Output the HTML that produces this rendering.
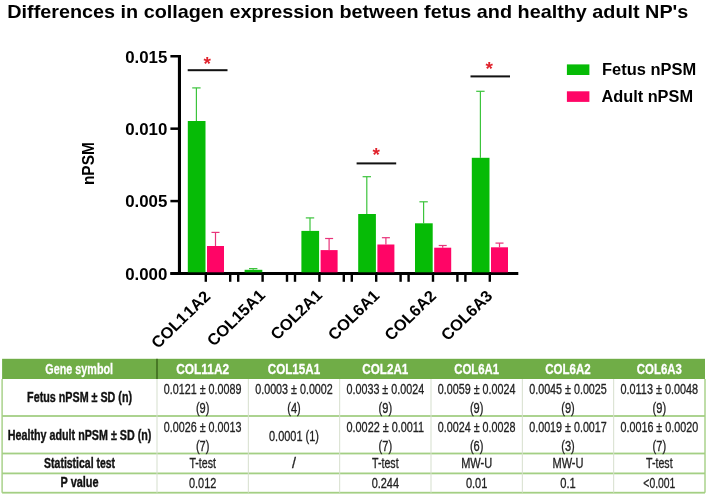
<!DOCTYPE html>
<html lang="en"><head><meta charset="utf-8"><title>Differences in collagen expression between fetus and healthy adult NP's</title>
<style>html,body{margin:0;padding:0;background:#fff}body{width:708px;height:496px;overflow:hidden}svg{display:block}text{font-family:"Liberation Sans",Arial,Helvetica,sans-serif}.b{font-weight:700;fill:#000}.ax{font-size:16px;font-weight:700;fill:#000}.th{font-size:15.5px;font-weight:700;fill:#fff;stroke:#fff;stroke-width:.3px;text-anchor:middle}.rh{font-size:15px;font-weight:700;fill:#111;stroke:#111;stroke-width:.4px;text-anchor:middle}.td{font-size:14.2px;fill:#222;stroke:#222;stroke-width:.3px;text-anchor:middle}.star{font-size:19px;font-weight:700;fill:#e0222c;text-anchor:middle}</style></head><body>
<svg width="708" height="496" viewBox="0 0 708 496">
<rect width="708" height="496" fill="#fff"/>
<text class="b" x="7.3" y="18" font-size="17.8" textLength="681" lengthAdjust="spacingAndGlyphs">Differences in collagen expression between fetus and healthy adult NP's</text>
<rect x="177.9" y="55" width="3.1" height="220.00" fill="#000"/>
<rect x="170.4" y="272.00" width="347.90" height="3" fill="#000"/>
<rect x="170.4" y="272.25" width="8" height="2.5" fill="#000"/>
<text class="ax" x="167.4" y="279.80" font-size="16.4" text-anchor="end" textLength="42.2" lengthAdjust="spacingAndGlyphs">0.000</text>
<rect x="170.4" y="199.83" width="8" height="2.5" fill="#000"/>
<text class="ax" x="167.4" y="207.38" font-size="16.4" text-anchor="end" textLength="42.2" lengthAdjust="spacingAndGlyphs">0.005</text>
<rect x="170.4" y="127.42" width="8" height="2.5" fill="#000"/>
<text class="ax" x="167.4" y="134.97" font-size="16.4" text-anchor="end" textLength="42.2" lengthAdjust="spacingAndGlyphs">0.010</text>
<rect x="170.4" y="55.00" width="8" height="2.5" fill="#000"/>
<text class="ax" x="167.4" y="62.55" font-size="16.4" text-anchor="end" textLength="42.2" lengthAdjust="spacingAndGlyphs">0.015</text>
<text class="ax" transform="translate(93.8,185.1) rotate(-90)" textLength="43" lengthAdjust="spacingAndGlyphs" font-size="16.4">nPSM</text>
<rect x="204.60" y="273.50" width="2.4" height="8.30" fill="#000"/>
<rect x="229.00" y="273.50" width="2.4" height="8.30" fill="#000"/>
<rect x="195.80" y="87.90" width="1.2" height="33.10" fill="#3cc43c"/>
<rect x="192.20" y="87.30" width="8.4" height="1.2" fill="#3cc43c"/>
<rect x="187.80" y="121.00" width="17.7" height="151.30" fill="#06bb06"/>
<rect x="214.90" y="232.40" width="1.2" height="13.60" fill="#e8337a"/>
<rect x="211.50" y="231.80" width="8" height="1.2" fill="#e8337a"/>
<rect x="207.00" y="246.00" width="17" height="26.30" fill="#ff0566"/>
<text class="ax" transform="translate(211.40,297.40) scale(1.03,1) rotate(-45)" text-anchor="end" font-size="16.8" style="font-kerning:none">COL1<tspan dx="1.3">1</tspan>A2</text>
<rect x="261.40" y="273.50" width="2.4" height="8.30" fill="#000"/>
<rect x="237.00" y="273.50" width="2.4" height="8.30" fill="#000"/>
<rect x="285.80" y="273.50" width="2.4" height="8.30" fill="#000"/>
<rect x="252.60" y="268.60" width="1.2" height="1.20" fill="#3cc43c"/>
<rect x="249.00" y="268.00" width="8.4" height="1.2" fill="#3cc43c"/>
<rect x="244.60" y="269.80" width="17.7" height="2.50" fill="#06bb06"/>
<text class="ax" transform="translate(266.20,296.20) scale(1.03,1) rotate(-45)" text-anchor="end" font-size="16.8" style="font-kerning:none">COL15A1</text>
<rect x="318.20" y="273.50" width="2.4" height="8.30" fill="#000"/>
<rect x="293.80" y="273.50" width="2.4" height="8.30" fill="#000"/>
<rect x="342.60" y="273.50" width="2.4" height="8.30" fill="#000"/>
<rect x="309.40" y="217.90" width="1.2" height="13.00" fill="#3cc43c"/>
<rect x="305.80" y="217.30" width="8.4" height="1.2" fill="#3cc43c"/>
<rect x="301.40" y="230.90" width="17.7" height="41.40" fill="#06bb06"/>
<rect x="328.50" y="238.50" width="1.2" height="11.60" fill="#e8337a"/>
<rect x="325.10" y="237.90" width="8" height="1.2" fill="#e8337a"/>
<rect x="320.60" y="250.10" width="17" height="22.20" fill="#ff0566"/>
<text class="ax" transform="translate(323.20,296.20) scale(1.03,1) rotate(-45)" text-anchor="end" font-size="16.8" style="font-kerning:none">COL2A1</text>
<rect x="375.00" y="273.50" width="2.4" height="8.30" fill="#000"/>
<rect x="350.60" y="273.50" width="2.4" height="8.30" fill="#000"/>
<rect x="399.40" y="273.50" width="2.4" height="8.30" fill="#000"/>
<rect x="366.20" y="176.70" width="1.2" height="37.30" fill="#3cc43c"/>
<rect x="362.60" y="176.10" width="8.4" height="1.2" fill="#3cc43c"/>
<rect x="358.20" y="214.00" width="17.7" height="58.30" fill="#06bb06"/>
<rect x="385.30" y="237.70" width="1.2" height="6.80" fill="#e8337a"/>
<rect x="381.90" y="237.10" width="8" height="1.2" fill="#e8337a"/>
<rect x="377.40" y="244.50" width="17" height="27.80" fill="#ff0566"/>
<text class="ax" transform="translate(380.60,296.60) scale(1.03,1) rotate(-45)" text-anchor="end" font-size="16.8" style="font-kerning:none">COL6A1</text>
<rect x="431.80" y="273.50" width="2.4" height="8.30" fill="#000"/>
<rect x="407.40" y="273.50" width="2.4" height="8.30" fill="#000"/>
<rect x="456.20" y="273.50" width="2.4" height="8.30" fill="#000"/>
<rect x="423.00" y="201.80" width="1.2" height="21.50" fill="#3cc43c"/>
<rect x="419.40" y="201.20" width="8.4" height="1.2" fill="#3cc43c"/>
<rect x="415.00" y="223.30" width="17.7" height="49.00" fill="#06bb06"/>
<rect x="442.10" y="245.50" width="1.2" height="2.20" fill="#e8337a"/>
<rect x="438.70" y="244.90" width="8" height="1.2" fill="#e8337a"/>
<rect x="434.20" y="247.70" width="17" height="24.60" fill="#ff0566"/>
<text class="ax" transform="translate(437.20,296.90) scale(1.03,1) rotate(-45)" text-anchor="end" font-size="16.8" style="font-kerning:none">COL6A2</text>
<rect x="488.60" y="273.50" width="2.4" height="8.30" fill="#000"/>
<rect x="464.20" y="273.50" width="2.4" height="8.30" fill="#000"/>
<rect x="479.80" y="91.30" width="1.2" height="66.50" fill="#3cc43c"/>
<rect x="476.20" y="90.70" width="8.4" height="1.2" fill="#3cc43c"/>
<rect x="471.80" y="157.80" width="17.7" height="114.50" fill="#06bb06"/>
<rect x="498.90" y="243.10" width="1.2" height="4.20" fill="#e8337a"/>
<rect x="495.50" y="242.50" width="8" height="1.2" fill="#e8337a"/>
<rect x="491.00" y="247.30" width="17" height="25.00" fill="#ff0566"/>
<text class="ax" transform="translate(493.60,296.90) scale(1.03,1) rotate(-45)" text-anchor="end" font-size="16.8" style="font-kerning:none">COL6A3</text>
<rect x="187.7" y="69.20" width="39.80" height="2" fill="#111"/>
<text class="star" x="207.1" y="69.60">*</text>
<rect x="356.6" y="162.40" width="39.60" height="2" fill="#111"/>
<text class="star" x="376.1" y="160.80">*</text>
<rect x="470.5" y="75.40" width="39.50" height="2" fill="#111"/>
<text class="star" x="489.2" y="74.80">*</text>
<rect x="566.9" y="64.4" width="22.5" height="10.6" fill="#06bb06"/>
<rect x="566.9" y="91.3" width="22.5" height="10.6" fill="#ff0566"/>
<text class="ax" x="602" y="74.8" font-size="16.2" textLength="94.1" lengthAdjust="spacingAndGlyphs">Fetus nPSM</text>
<text class="ax" x="601.4" y="101.9" font-size="16.2" textLength="91.6" lengthAdjust="spacingAndGlyphs">Adult nPSM</text>
<rect x="2.1" y="358.8" width="702.9" height="20.20" fill="#70ad47"/>
<rect x="156.2" y="358.8" width="1.6" height="20.20" fill="#3f6b1f"/>
<rect x="2.1" y="415.10" width="702.9" height="1.8" fill="#a4cf84"/>
<rect x="2.1" y="452.60" width="702.9" height="1.8" fill="#a4cf84"/>
<rect x="2.1" y="472.50" width="702.9" height="1.8" fill="#a4cf84"/>
<rect x="2.1" y="491.80" width="702.9" height="1.8" fill="#a4cf84"/>
<rect x="1.40" y="379.00" width="1.4" height="113.70" fill="#a4cf84"/>
<rect x="156.50" y="379.00" width="1" height="113.70" fill="#d6dfcd"/>
<rect x="247.83" y="379.00" width="1" height="113.70" fill="#d6dfcd"/>
<rect x="339.17" y="379.00" width="1" height="113.70" fill="#d6dfcd"/>
<rect x="430.50" y="379.00" width="1" height="113.70" fill="#d6dfcd"/>
<rect x="521.83" y="379.00" width="1" height="113.70" fill="#d6dfcd"/>
<rect x="613.17" y="379.00" width="1" height="113.70" fill="#d6dfcd"/>
<rect x="704.30" y="379.00" width="1.4" height="113.70" fill="#a4cf84"/>
<text class="th" x="79.20" y="374.40" textLength="67.8" lengthAdjust="spacingAndGlyphs">Gene symbol</text>
<text class="th" x="202.67" y="374.40" textLength="53" lengthAdjust="spacingAndGlyphs">COL11A2</text>
<text class="th" x="294.00" y="374.40" textLength="52.5" lengthAdjust="spacingAndGlyphs">COL15A1</text>
<text class="th" x="385.33" y="374.40" textLength="46" lengthAdjust="spacingAndGlyphs">COL2A1</text>
<text class="th" x="476.67" y="374.40" textLength="45" lengthAdjust="spacingAndGlyphs">COL6A1</text>
<text class="th" x="568.00" y="374.40" textLength="45.5" lengthAdjust="spacingAndGlyphs">COL6A2</text>
<text class="th" x="659.33" y="374.40" textLength="45" lengthAdjust="spacingAndGlyphs">COL6A3</text>
<text class="rh" x="79.60" y="402.20" textLength="105" lengthAdjust="spacingAndGlyphs">Fetus nPSM ± SD (n)</text>
<text class="rh" x="79.60" y="440.00" textLength="143.5" lengthAdjust="spacingAndGlyphs">Healthy adult nPSM ± SD (n)</text>
<text class="rh" x="79.60" y="468.20" textLength="71" lengthAdjust="spacingAndGlyphs">Statistical test</text>
<text class="rh" x="79.60" y="487.40" textLength="38" lengthAdjust="spacingAndGlyphs">P value</text>
<text class="td" x="202.67" y="394.20" textLength="77.6" lengthAdjust="spacingAndGlyphs">0.0121 ± 0.0089</text>
<text class="td" x="202.67" y="412.50" textLength="13.5" lengthAdjust="spacingAndGlyphs">(9)</text>
<text class="td" x="202.67" y="431.50" textLength="77.6" lengthAdjust="spacingAndGlyphs">0.0026 ± 0.0013</text>
<text class="td" x="202.67" y="451.30" textLength="13.5" lengthAdjust="spacingAndGlyphs">(7)</text>
<text class="td" x="202.67" y="468.20" textLength="26.5" lengthAdjust="spacingAndGlyphs">T-test</text>
<text class="td" x="202.67" y="487.70" textLength="27.4" lengthAdjust="spacingAndGlyphs">0.012</text>
<text class="td" x="294.00" y="394.20" textLength="77.6" lengthAdjust="spacingAndGlyphs">0.0003 ± 0.0002</text>
<text class="td" x="294.00" y="412.50" textLength="13.5" lengthAdjust="spacingAndGlyphs">(4)</text>
<text class="td" x="294.00" y="441.40" textLength="50" lengthAdjust="spacingAndGlyphs">0.0001 (1)</text>
<text class="td" x="294.00" y="468.20">/</text>
<text class="td" x="385.33" y="394.20" textLength="77.6" lengthAdjust="spacingAndGlyphs">0.0033 ± 0.0024</text>
<text class="td" x="385.33" y="412.50" textLength="13.5" lengthAdjust="spacingAndGlyphs">(9)</text>
<text class="td" x="385.33" y="431.50" textLength="77.6" lengthAdjust="spacingAndGlyphs">0.0022 ± 0.0011</text>
<text class="td" x="385.33" y="451.30" textLength="13.5" lengthAdjust="spacingAndGlyphs">(7)</text>
<text class="td" x="385.33" y="468.20" textLength="26.5" lengthAdjust="spacingAndGlyphs">T-test</text>
<text class="td" x="385.33" y="487.70" textLength="27.4" lengthAdjust="spacingAndGlyphs">0.244</text>
<text class="td" x="476.67" y="394.20" textLength="77.6" lengthAdjust="spacingAndGlyphs">0.0059 ± 0.0024</text>
<text class="td" x="476.67" y="412.50" textLength="13.5" lengthAdjust="spacingAndGlyphs">(9)</text>
<text class="td" x="476.67" y="431.50" textLength="77.6" lengthAdjust="spacingAndGlyphs">0.0024 ± 0.0028</text>
<text class="td" x="476.67" y="451.30" textLength="13.5" lengthAdjust="spacingAndGlyphs">(6)</text>
<text class="td" x="476.67" y="468.20" textLength="31" lengthAdjust="spacingAndGlyphs">MW-U</text>
<text class="td" x="476.67" y="487.70" textLength="21.5" lengthAdjust="spacingAndGlyphs">0.01</text>
<text class="td" x="568.00" y="394.20" textLength="77.6" lengthAdjust="spacingAndGlyphs">0.0045 ± 0.0025</text>
<text class="td" x="568.00" y="412.50" textLength="13.5" lengthAdjust="spacingAndGlyphs">(9)</text>
<text class="td" x="568.00" y="431.50" textLength="77.6" lengthAdjust="spacingAndGlyphs">0.0019 ± 0.0017</text>
<text class="td" x="568.00" y="451.30" textLength="13.5" lengthAdjust="spacingAndGlyphs">(3)</text>
<text class="td" x="568.00" y="468.20" textLength="31" lengthAdjust="spacingAndGlyphs">MW-U</text>
<text class="td" x="568.00" y="487.70" textLength="15.5" lengthAdjust="spacingAndGlyphs">0.1</text>
<text class="td" x="659.33" y="394.20" textLength="77.6" lengthAdjust="spacingAndGlyphs">0.0113 ± 0.0048</text>
<text class="td" x="659.33" y="412.50" textLength="13.5" lengthAdjust="spacingAndGlyphs">(9)</text>
<text class="td" x="659.33" y="431.50" textLength="77.6" lengthAdjust="spacingAndGlyphs">0.0016 ± 0.0020</text>
<text class="td" x="659.33" y="451.30" textLength="13.5" lengthAdjust="spacingAndGlyphs">(7)</text>
<text class="td" x="659.33" y="468.20" textLength="26.5" lengthAdjust="spacingAndGlyphs">T-test</text>
<text class="td" x="659.33" y="487.70" textLength="32" lengthAdjust="spacingAndGlyphs">&lt;0.001</text>
</svg></body></html>
